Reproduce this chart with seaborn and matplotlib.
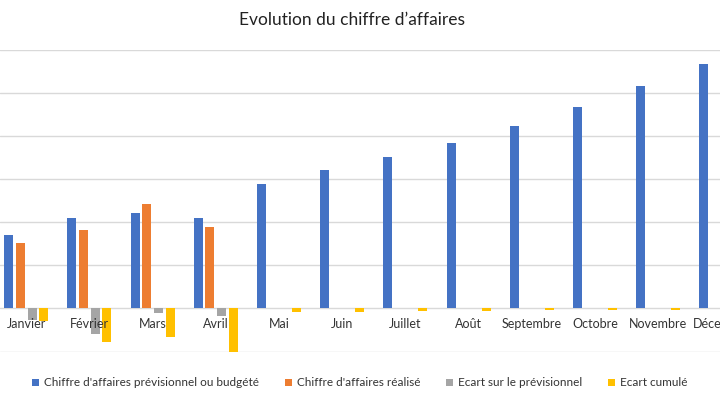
import numpy as np
import pandas as pd
import matplotlib
matplotlib.use("Agg")
import matplotlib.pyplot as plt
import seaborn as sns

MONTHS = ["Janvier", "Février", "Mars", "Avril", "Mai", "Juin", "Juillet",
          "Août", "Septembre", "Octobre", "Novembre", "Décembre"]
SERIES = ["Chiffre d'affaires prévisionnel ou budgété", "Chiffre d'affaires réalisé",
          "Ecart sur le prévisionnel", "Ecart cumulé"]
COLORS = ["#4472C4", "#ED7D31", "#A5A5A5", "#FFC000"]

nan = np.nan
budget = [1.70, 2.09, 2.22, 2.09, 2.90, 3.21, 3.52, 3.85, 4.24, 4.68, 5.16, 5.67]
realise = [1.53, 1.82, 2.43, 1.90, nan, nan, nan, nan, nan, nan, nan, nan]
ecart = [-0.26, -0.59, -0.10, -0.17, nan, nan, nan, nan, nan, nan, nan, nan]
ecart_cumule = [-0.29, -0.78, -0.67, -1.01, -0.09, -0.09, -0.05, -0.05, -0.04, -0.04, -0.04, -0.04]

rows = []
for name, vals in zip(SERIES, [budget, realise, ecart, ecart_cumule]):
    for m, v in zip(MONTHS, vals):
        rows.append({"mois": m, "serie": name, "valeur": v})
df = pd.DataFrame(rows)

sns.set_style("white")
plt.rcParams['font.family'] = ['Lato', 'DejaVu Sans']

# the original screenshot is cropped: the plot area runs past both edges
x_left, x_right = -0.415, 11.05
group_px = 63.2
fig = plt.figure(figsize=(7.2, 4.05), dpi=100)
ax = fig.add_axes([0, 53.5 / 405, (x_right - x_left) * group_px / 720, (351.5 - 50) / 405])

sns.barplot(data=df, x="mois", y="valeur", hue="serie", order=MONTHS,
            hue_order=SERIES, palette=COLORS, saturation=1, width=0.74, gap=0.23,
            linewidth=0, errorbar=None, legend=True, ax=ax)

ax.set_xlim(x_left, x_right)
ax.set_ylim(-1, 6)
ax.set_yticks(range(-1, 7))
ax.yaxis.grid(True, color="#D9D9D9", linewidth=1)
ax.yaxis.set_zorder(0.5)
ax.xaxis.set_zorder(5)
ax.set_yticklabels([])
ax.tick_params(axis="y", length=0)
ax.spines["bottom"].set_position(("data", 0))
ax.tick_params(axis="x", length=0, pad=7, labelsize=9, labelcolor="#333333")
ax.set_xlabel("")
ax.set_ylabel("")
for s in ax.spines.values():
    s.set_visible(False)

handles, labels = ax.get_legend_handles_labels()
ax.get_legend().remove()
fig.legend(handles, labels, loc="center", bbox_to_anchor=(0.5, 1 - 383 / 405),
           ncol=4, frameon=False, fontsize=8.5, handlelength=0.6, handleheight=0.6,
           handletextpad=0.4, columnspacing=2.2, labelcolor="#333333")

fig.text(352 / 720, 1 - 20 / 405, "Evolution du chiffre d’affaires",
         ha="center", va="center", fontsize=12.5, color="#222222")

fig.savefig("out.png", dpi=100)
